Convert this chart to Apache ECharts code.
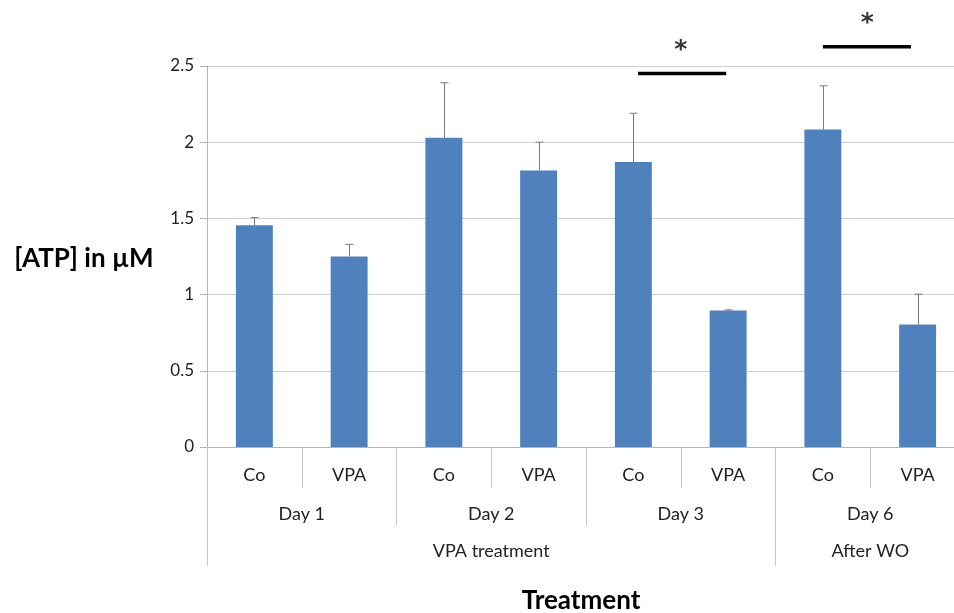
<!DOCTYPE html>
<html><head><meta charset="utf-8">
<script src="https://cdn.jsdelivr.net/npm/echarts@6/dist/echarts.min.js"></script>
<style>html,body{margin:0;padding:0;background:#fff;overflow:hidden}#c{width:954px;height:613px}</style>
</head><body><div id="c"></div>
<script>
const categories = ['Co','VPA','Co','VPA','Co','VPA','Co','VPA'];
const days = ['Day 1','Day 2','Day 3','Day 6'];
const phases = ['', '', '', 'VPA treatment', '', '', '', 'After WO', ''];
const atp = [1.455, 1.25, 2.03, 1.815, 1.87, 0.895, 2.083, 0.803];
const errPlus = [0.05, 0.08, 0.36, 0.185, 0.32, 0.005, 0.287, 0.2];
const sigLines = [[4.55, 5.48, 2.45], [6.5, 7.43, 2.627]];
const sigStars = [[5.0, 2.6], [6.97, 2.78]];
const yMin = 0, yMax = 2.5, yStep = 0.5;

const font = 'Lato, "Open Sans", sans-serif';
const chart = echarts.init(document.getElementById('c'));
chart.setOption({
  animation: false,
  grid: {left: 207, width: 758, top: 66, height: 381, containLabel: false, outerBoundsMode: 'none'},
  xAxis: [
    {type: 'category', data: categories, position: 'bottom',
     axisLine: {show: true, lineStyle: {color: '#b5b5b5', width: 1}},
     axisTick: {show: true, length: 41, lineStyle: {color: '#c8c8c8'}},
     axisLabel: {margin: 19, fontSize: 18, color: '#222', fontFamily: font},
     splitLine: {show: false}},
    {type: 'category', data: days, position: 'bottom',
     axisLine: {show: false},
     axisTick: {show: true, length: 78, lineStyle: {color: '#c8c8c8'}},
     axisLabel: {margin: 58, fontSize: 18, color: '#222', fontFamily: font},
     splitLine: {show: false}},
    {type: 'category', data: phases, position: 'bottom', boundaryGap: false,
     axisLine: {show: false},
     axisTick: {show: true, length: 119, interval: (i) => i === 0 || i === 6 || i === 8, lineStyle: {color: '#c8c8c8'}},
     axisLabel: {margin: 95, interval: 0, fontSize: 18, color: '#222', fontFamily: font},
     splitLine: {show: false}},
    {type: 'value', min: 0, max: categories.length, show: false}
  ],
  yAxis: [{
    type: 'value', min: yMin, max: yMax, interval: yStep,
    axisLine: {show: true, lineStyle: {color: '#b5b5b5'}},
    axisTick: {show: true, length: 7, lineStyle: {color: '#b5b5b5'}},
    axisLabel: {fontSize: 17, color: '#222', margin: 13, fontFamily: font},
    splitLine: {show: true, lineStyle: {color: '#d0d0d0', width: 1}}
  }],
  series: [
    {type: 'bar', data: atp, xAxisIndex: 0, barWidth: '39%',
     itemStyle: {color: '#4f81bd'}},
    {type: 'custom', xAxisIndex: 0, z: 5,
     data: atp.map((v, i) => [i, v, v + errPlus[i]]),
     renderItem: function (params, api) {
       const p0 = api.coord([api.value(0), api.value(1)]);
       const p1 = api.coord([api.value(0), api.value(2)]);
       const x = Math.round(p0[0]) + 0.5;
       return {type: 'group', children: [
         {type: 'line', shape: {x1: x, y1: p0[1], x2: x, y2: p1[1]}, style: {stroke: '#7a7a7a', lineWidth: 1}},
         {type: 'line', shape: {x1: x - 4, y1: p1[1], x2: x + 4, y2: p1[1]}, style: {stroke: '#7a7a7a', lineWidth: 1}}
       ]};
     }},
    ...sigLines.map(s => ({
      type: 'line', xAxisIndex: 3, clip: false, symbol: 'none', z: 6,
      data: [[s[0], s[2]], [s[1], s[2]]],
      lineStyle: {color: '#000', width: 3.5}
    })),
    {type: 'scatter', xAxisIndex: 3, clip: false, symbolSize: 0, z: 6,
     data: sigStars,
     label: {show: true, position: 'inside', formatter: '*', fontSize: 25, fontWeight: 'bold', color: '#000', fontFamily: '"DejaVu Sans", sans-serif'}}
  ],
  graphic: [
    {type: 'text', x: 84, y: 259, style: {text: '[ATP] in µM', fontSize: 26, fontWeight: 'bold', fill: '#000', fontFamily: font, textAlign: 'center', textVerticalAlign: 'middle'}},
    {type: 'text', x: 581, y: 601, style: {text: 'Treatment', fontSize: 26, fontWeight: 'bold', fill: '#000', fontFamily: font, textAlign: 'center', textVerticalAlign: 'middle'}}
  ]
});
</script></body></html>
